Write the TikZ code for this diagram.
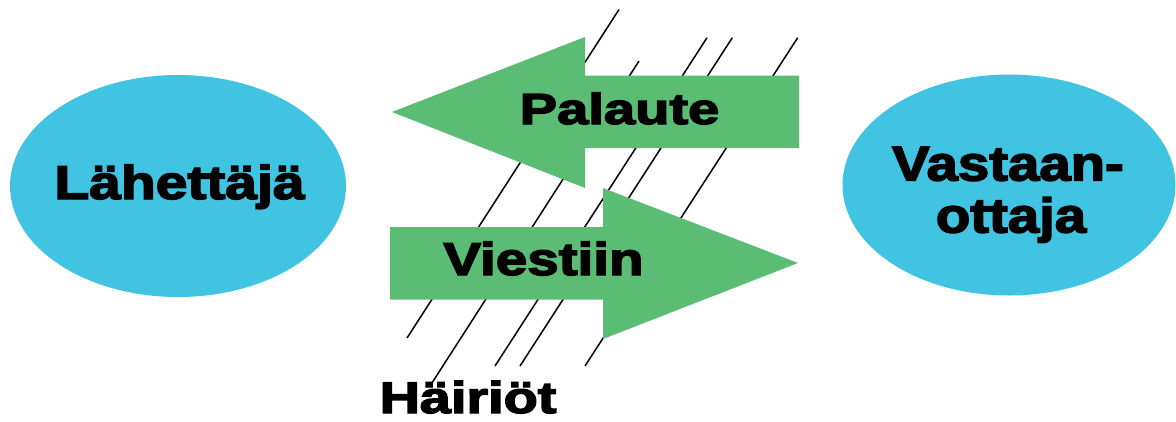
\documentclass[tikz,border=0pt]{standalone}
\usepackage{fontspec}
\usetikzlibrary{shapes.geometric}
\newfontfamily\heavyfont{Liberation Sans}[BoldFeatures={FakeBold=3}]
\newcommand\heavytext[3]{\scalebox{#2}[1]{\heavyfont\bfseries\fontsize{#1}{#1}\selectfont #3}}
\definecolor{arrowgreen}{RGB}{91,189,115}
\definecolor{ovalblue}{RGB}{64,196,226}
\begin{document}
\begin{tikzpicture}[x=1pt,y=-1pt,
  party/.style={ellipse, fill=ovalblue, draw=none, inner sep=0pt},
  label/.style={inner sep=0pt, anchor=base, text=black},
  noise/.style={draw=black, line width=1.5pt},
  flow/.style={fill=arrowgreen, draw=none}]
\useasboundingbox (0,0) rectangle (1176,421);
% ovals
\node[party, minimum width=336pt, minimum height=222pt] (sender) at (178,186) {};
\node[party, minimum width=333pt, minimum height=221pt] (receiver) at (1009,185) {};
% noise lines
\coordinate (a1) at (619,9.5);   \coordinate (a2) at (407,338);
\coordinate (b1) at (639,61);    \coordinate (b2) at (430,386);
\coordinate (c1) at (707,37.7);  \coordinate (c2) at (495,366);
\coordinate (d1) at (732.3,37.7);\coordinate (d2) at (520,366);
\coordinate (e1) at (797.7,37.7);\coordinate (e2) at (585,366);
\draw[noise] (a1) -- (a2);
\draw[noise] (b1) -- (b2);
\draw[noise] (c1) -- (c2);
\draw[noise] (d1) -- (d2);
\draw[noise] (e1) -- (e2);
% arrows
\fill[flow] (392,112) -- (585,37) -- (585,75.5) -- (799,75.5) -- (799,148) -- (585,148) -- (585,188) -- cycle;
\fill[flow] (390,227) -- (603,227) -- (603,188) -- (798,263) -- (603,339) -- (603,299.5) -- (390,299.5) -- cycle;
% texts
\node[label] (tsender) at (179.5,199) {\heavytext{47.5}{1.2}{Lähettäjä}};
\node[label] (trecv1) at (1008,180.5) {\heavytext{49}{1.15}{Vastaan-}};
\node[label] (trecv2) at (1011,232.5) {\heavytext{49}{1.15}{ottaja}};
\node[label] (tfeedback) at (619.5,124) {\heavytext{43.5}{1.29}{Palaute}};
\node[label] (tmessage) at (543.5,275) {\heavytext{46}{1.23}{Viestiin}};
\node[label] (tnoise) at (468,413) {\heavytext{44.3}{1.26}{Häiriöt}};
\end{tikzpicture}
\end{document}
